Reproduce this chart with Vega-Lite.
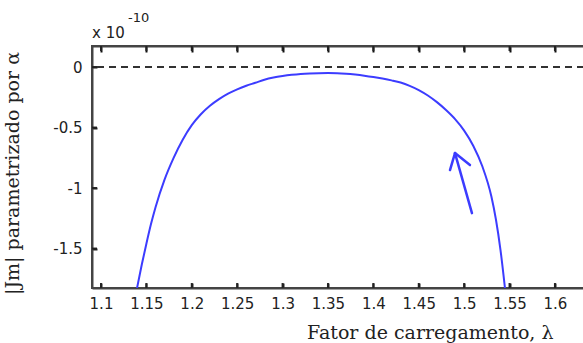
{
  "$schema": "https://vega.github.io/schema/vega-lite/v6.json",
  "autosize": {"type": "none"},
  "padding": {"left": 92, "top": 46, "right": 0, "bottom": 55},
  "width": 492,
  "height": 242,
  "background": "white",
  "config": {
    "view": {"stroke": "#444", "strokeWidth": 2},
    "axis": {
      "domainColor": "#444", "domainWidth": 2,
      "tickColor": "#222", "tickWidth": 2, "tickSize": -5,
      "grid": false,
      "labelFont": "DejaVu Sans", "labelFontSize": 15, "labelColor": "#222",
      "titleFont": "DejaVu Serif", "titleFontWeight": "normal", "titleColor": "#222"
    }
  },
  "datasets": {
    "curve": [
      {"lam": 1.1396, "val": -1.83},
      {"lam": 1.145, "val": -1.63},
      {"lam": 1.15, "val": -1.46},
      {"lam": 1.155, "val": -1.30},
      {"lam": 1.16, "val": -1.16},
      {"lam": 1.17, "val": -0.93},
      {"lam": 1.18, "val": -0.75},
      {"lam": 1.19, "val": -0.60},
      {"lam": 1.20, "val": -0.48},
      {"lam": 1.21, "val": -0.39},
      {"lam": 1.22, "val": -0.32},
      {"lam": 1.23, "val": -0.265},
      {"lam": 1.24, "val": -0.22},
      {"lam": 1.25, "val": -0.184},
      {"lam": 1.26, "val": -0.154},
      {"lam": 1.27, "val": -0.13},
      {"lam": 1.28, "val": -0.105},
      {"lam": 1.29, "val": -0.087},
      {"lam": 1.30, "val": -0.074},
      {"lam": 1.31, "val": -0.064},
      {"lam": 1.32, "val": -0.057},
      {"lam": 1.33, "val": -0.053},
      {"lam": 1.34, "val": -0.051},
      {"lam": 1.35, "val": -0.05},
      {"lam": 1.36, "val": -0.051},
      {"lam": 1.37, "val": -0.055},
      {"lam": 1.38, "val": -0.062},
      {"lam": 1.39, "val": -0.071},
      {"lam": 1.40, "val": -0.082},
      {"lam": 1.41, "val": -0.095},
      {"lam": 1.42, "val": -0.11},
      {"lam": 1.43, "val": -0.128},
      {"lam": 1.44, "val": -0.155},
      {"lam": 1.45, "val": -0.19},
      {"lam": 1.46, "val": -0.235},
      {"lam": 1.47, "val": -0.29},
      {"lam": 1.48, "val": -0.355},
      {"lam": 1.49, "val": -0.43},
      {"lam": 1.50, "val": -0.525},
      {"lam": 1.51, "val": -0.65},
      {"lam": 1.52, "val": -0.82},
      {"lam": 1.53, "val": -1.07},
      {"lam": 1.535, "val": -1.26},
      {"lam": 1.54, "val": -1.51},
      {"lam": 1.545, "val": -1.83}
    ],
    "arrow": [
      {"x1": 1.5086, "y1": -1.207, "x2": 1.4899, "y2": -0.711},
      {"x1": 1.4899, "y1": -0.711, "x2": 1.4844, "y2": -0.851},
      {"x1": 1.4899, "y1": -0.711, "x2": 1.5064, "y2": -0.810}
    ],
    "xticks": [{"v": 1.1}, {"v": 1.15}, {"v": 1.2}, {"v": 1.25}, {"v": 1.3}, {"v": 1.35}, {"v": 1.4}, {"v": 1.45}, {"v": 1.5}, {"v": 1.55}, {"v": 1.6}],
    "yticks": [{"v": 0}, {"v": -0.5}, {"v": -1}, {"v": -1.5}],
    "notes": [{"t": "x 10", "e": "-10"}]
  },
  "layer": [
    {
      "layer": [
        {
          "data": {"name": "curve"},
          "mark": {"type": "line", "color": "#3c3cff", "strokeWidth": 2, "interpolate": "monotone", "clip": true},
          "encoding": {
            "x": {
              "field": "lam", "type": "quantitative",
              "scale": {"domain": [1.0901, 1.632], "nice": false, "zero": false},
              "axis": {
                "orient": "bottom",
                "values": [1.1, 1.15, 1.2, 1.25, 1.3, 1.35, 1.4, 1.45, 1.5, 1.55, 1.6],
                "format": ".2~f", "labelPadding": 13, "labelFlush": false,
                "title": "Fator de carregamento, λ", "titleFontSize": 19,
                "titleAnchor": "end", "titleAlign": "right", "titleX": 461, "titleY": 50, "titleBaseline": "alphabetic"
              }
            },
            "y": {
              "field": "val", "type": "quantitative",
              "scale": {"domain": [-1.826, 0.174], "nice": false, "zero": false},
              "axis": {
                "values": [0, -0.5, -1, -1.5],
                "labelExpr": "datum.value == 0 ? '0' : '-' + format(abs(datum.value), '.1~f')",
                "labelPadding": 15,
                "title": "|Jm| parametrizado por α", "titleFontSize": 19, "titlePadding": 30, "titleY": 127
              }
            }
          }
        },
        {
          "data": {"name": "curve"},
          "mark": {"type": "rule", "color": "#333", "strokeWidth": 1.6, "strokeDash": [7, 5]},
          "encoding": {"y": {"datum": 0, "type": "quantitative"}}
        },
        {
          "data": {"name": "xticks"},
          "mark": {"type": "rule", "color": "#222", "strokeWidth": 2},
          "encoding": {"x": {"field": "v", "type": "quantitative"}, "y": {"datum": 0.174, "type": "quantitative"}, "y2": {"datum": 0.133}}
        },
        {
          "data": {"name": "xticks"},
          "mark": {"type": "rule", "color": "#222", "strokeWidth": 2},
          "encoding": {"x": {"field": "v", "type": "quantitative"}, "y": {"datum": -1.826, "type": "quantitative"}, "y2": {"datum": -1.785}}
        },
        {
          "data": {"name": "yticks"},
          "mark": {"type": "rule", "color": "#222", "strokeWidth": 2},
          "encoding": {"y": {"field": "v", "type": "quantitative"}, "x": {"datum": 1.0901, "type": "quantitative"}, "x2": {"datum": 1.0956}}
        },
        {
          "data": {"name": "arrow"},
          "mark": {"type": "rule", "color": "#3c3cff", "strokeWidth": 2.5, "strokeCap": "round"},
          "encoding": {
            "x": {"field": "x1", "type": "quantitative"},
            "y": {"field": "y1", "type": "quantitative"},
            "x2": {"field": "x2"},
            "y2": {"field": "y2"}
          }
        },
        {
          "data": {"name": "notes"},
          "mark": {"type": "text", "font": "DejaVu Sans", "fontSize": 15, "color": "#222", "align": "left", "baseline": "alphabetic", "dy": -8, "clip": false},
          "encoding": {"text": {"field": "t"}, "x": {"datum": 1.0901, "type": "quantitative"}, "y": {"datum": 0.174, "type": "quantitative"}}
        },
        {
          "data": {"name": "notes"},
          "mark": {"type": "text", "font": "DejaVu Sans", "fontSize": 13, "color": "#222", "align": "left", "baseline": "alphabetic", "dx": 36, "dy": -24, "clip": false},
          "encoding": {"text": {"field": "e"}, "x": {"datum": 1.0901, "type": "quantitative"}, "y": {"datum": 0.174, "type": "quantitative"}}
        }
      ]
    },
    {
      "data": {"name": "arrow"},
      "mark": {"type": "point", "opacity": 0},
      "encoding": {
        "x": {"field": "x1", "type": "quantitative", "axis": {"orient": "top", "values": [1.1, 1.15, 1.2, 1.25, 1.3, 1.35, 1.4, 1.45, 1.5, 1.55, 1.6], "labels": false, "ticks": true, "tickSize": -6, "tickColor": "#111", "tickWidth": 2, "title": null, "domain": true, "domainColor": "#444", "domainWidth": 2}},
        "y": {"field": "y1", "type": "quantitative"}
      }
    }
  ],
  "resolve": {"axis": {"x": "independent"}}
}
